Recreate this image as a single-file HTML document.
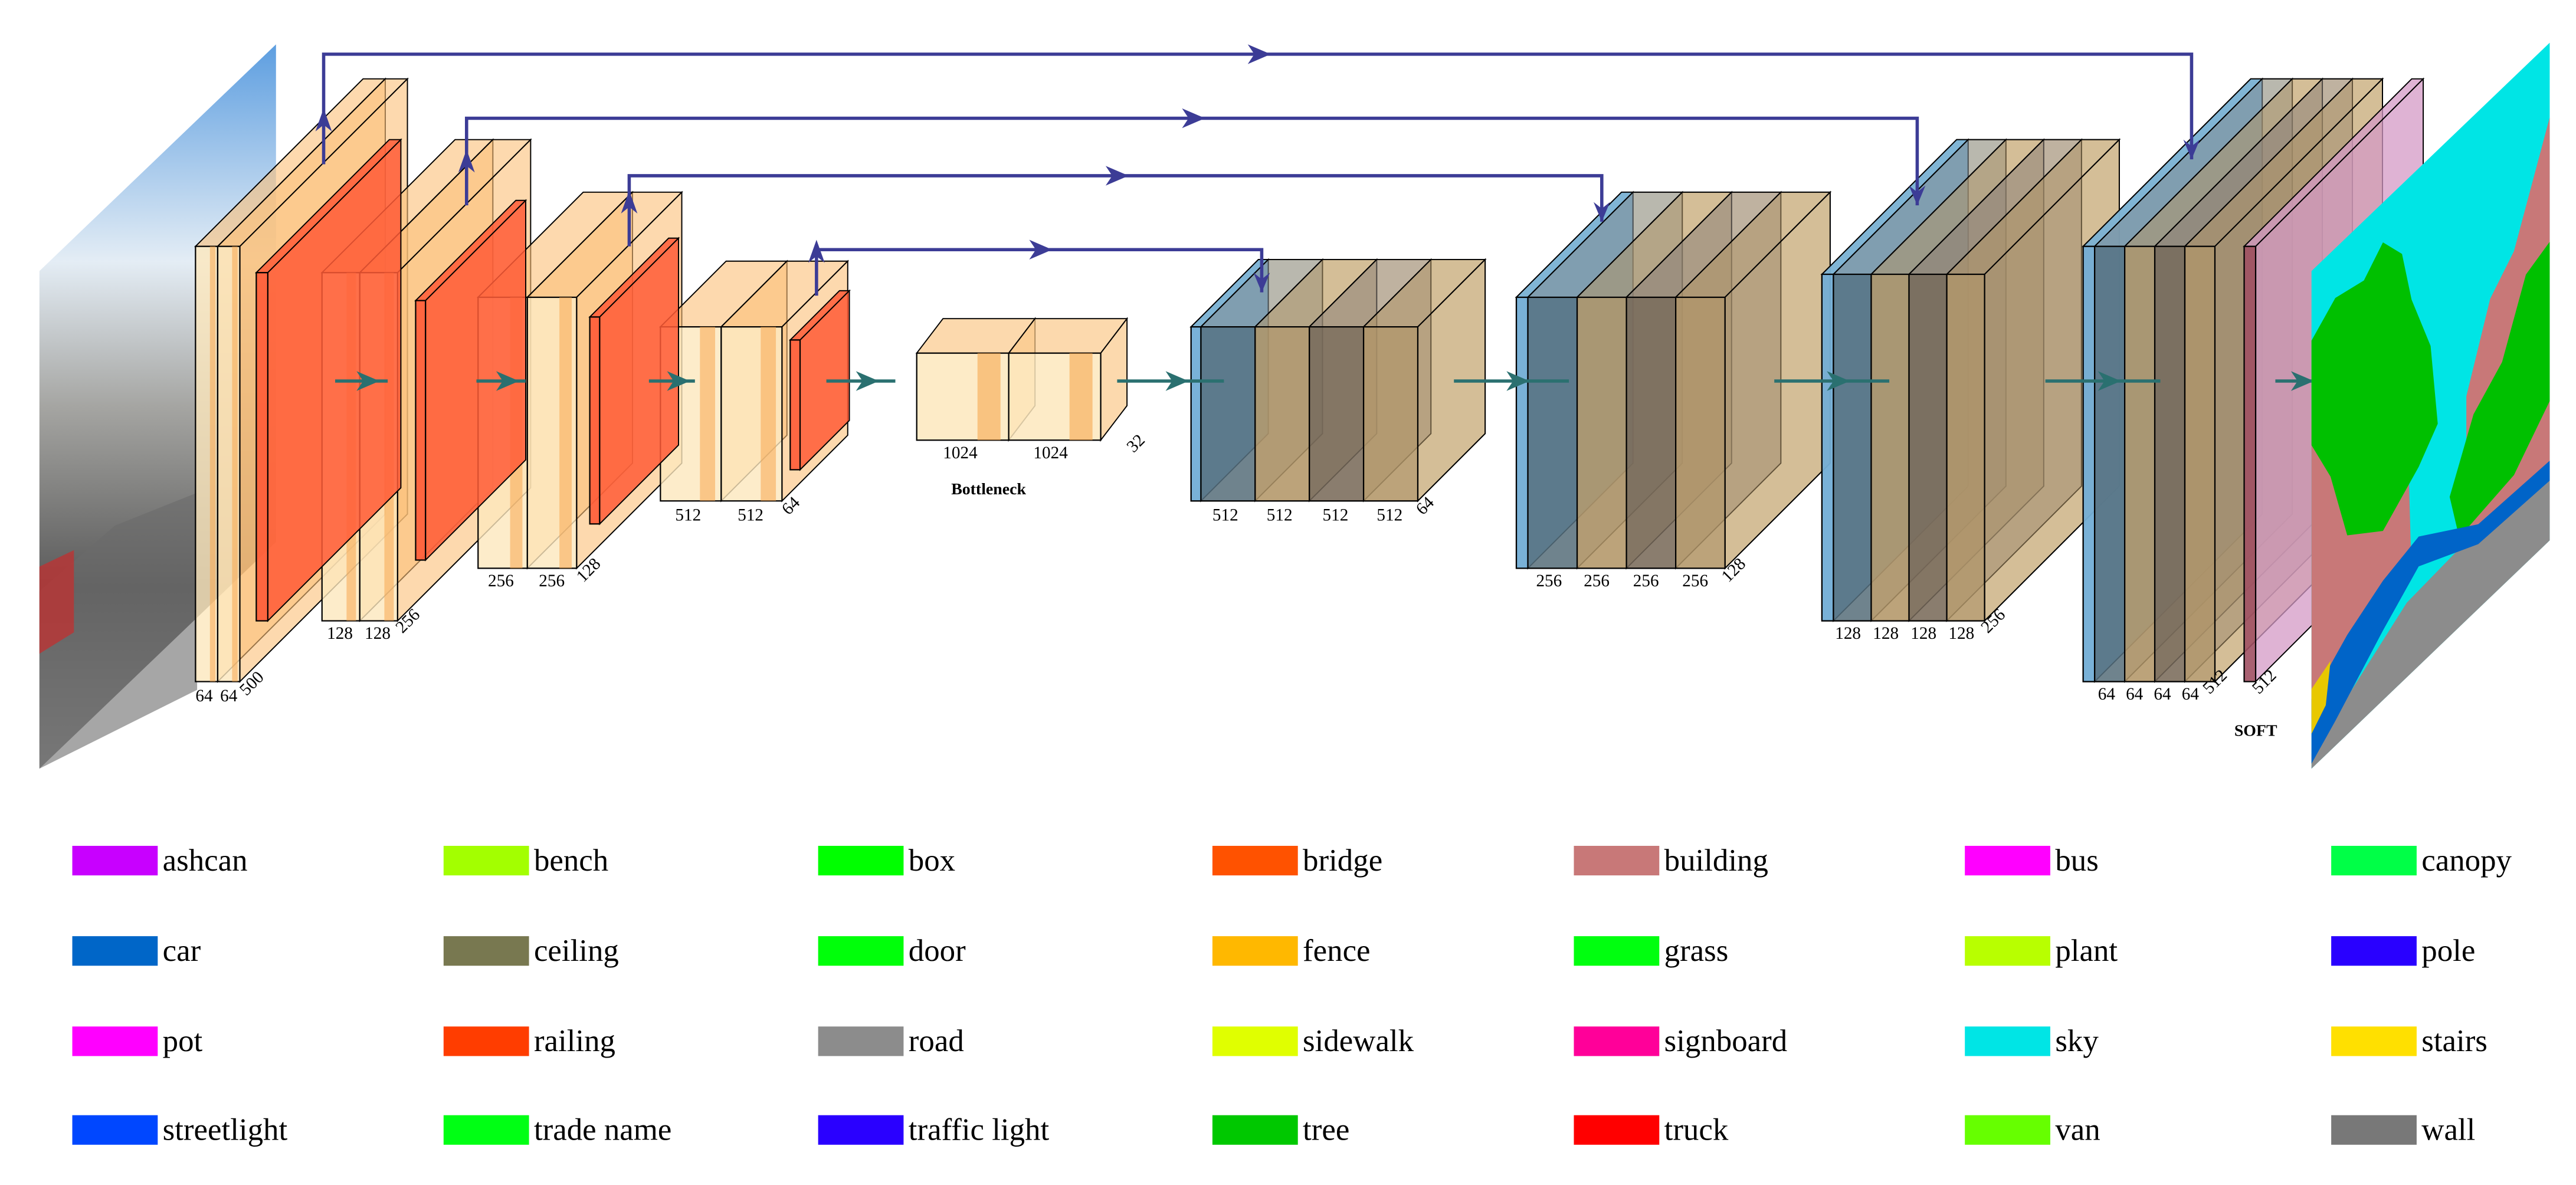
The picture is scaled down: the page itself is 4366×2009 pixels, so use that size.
<!DOCTYPE html>
<html><head><meta charset="utf-8"><style>
html,body{margin:0;padding:0;background:#fff}
svg{display:block}
svg text{font-family:"Liberation Serif","DejaVu Serif",serif}
</style></head><body>
<svg id="s" width="4366" height="2009" viewBox="0 0 1568 721.5" xmlns="http://www.w3.org/2000/svg">
<defs>
<linearGradient id="sky" x1="0" y1="0" x2="0" y2="1">
<stop offset="0" stop-color="#5d9ee0"/><stop offset="0.3" stop-color="#e4edf5"/><stop offset="0.5" stop-color="#a5a5a2"/><stop offset="0.75" stop-color="#5a5a5a"/><stop offset="1" stop-color="#8a8a8a"/>
</linearGradient>
</defs>
<g id="img">
<polygon points="24,165 168,27 168,330 24,468" fill="url(#sky)"/>
<polygon points="24,360 70,320 120,300 120,420 24,468" fill="#6b6b6b" opacity="0.6"/>
<polygon points="24,345 45,335 45,385 24,398" fill="#b33" opacity="0.8"/>
</g>
<g id="diag"></g>
<g id="out" transform="matrix(145,-139,0,303,1407,165)">
<polygon points="0,0 1,0 1,1 0,1" fill="#00e5e5"/>
<polygon points="0,0.3 0.2,0.3 0.4,0.45 0.42,0.8 0.2,0.85 0,0.9" fill="#c87878"/>
<polygon points="0,0.14 0.1,0.1 0.22,0.12 0.3,0.08 0.38,0.14 0.42,0.25 0.5,0.38 0.53,0.55 0.45,0.6 0.3,0.66 0.15,0.6 0.08,0.45 0,0.35" fill="#00c000"/>
<polygon points="0.65,0.55 0.75,0.4 0.85,0.35 1,0.15 1,0.95 0.65,0.9" fill="#c87878"/>
<polygon points="0.58,0.72 0.68,0.6 0.8,0.55 0.9,0.42 1,0.4 1,0.72 0.85,0.8 0.62,0.82" fill="#00c000"/>
<polygon points="0.4,0.85 0.7,0.84 1,0.86 1,1 0,1 0,0.97" fill="#8c8c8c"/>
<polygon points="0,0.86 0.15,0.8 0.3,0.76 0.45,0.74 0.7,0.83 1,0.84 1,0.88 0.7,0.87 0.45,0.8 0.3,0.86 0.1,0.95 0,0.99" fill="#0064c8"/>
<polygon points="0,0.84 0.08,0.82 0.06,0.9 0,0.93" fill="#e8c800"/>
</g>
<g id="legend"></g>
</svg>
<script>
const NS="http://www.w3.org/2000/svg";
const diag=document.getElementById('diag');
function el(tag,attrs,parent){const e=document.createElementNS(NS,tag);for(const k in attrs)e.setAttribute(k,attrs[k]);(parent||diag).appendChild(e);return e;}
function box(x,y,w,h,dx,dy,front,side,fop,sop,name){
  const g=el('g',{});
  
  
  el('polygon',{points:`${x},${y} ${x+dx},${y-dy} ${x+w+dx},${y-dy} ${x+w},${y}`,fill:side,'fill-opacity':sop,stroke:'#000','stroke-width':0.7},g);
  el('polygon',{points:`${x+w},${y} ${x+w+dx},${y-dy} ${x+w+dx},${y+h-dy} ${x+w},${y+h}`,fill:side,'fill-opacity':sop,stroke:'#000','stroke-width':0.7},g);
  el('rect',{x:x,y:y,width:w,height:h,fill:front,'fill-opacity':fop,stroke:'#000','stroke-width':0.8},g);
  return g;
}
const convStages=[[119,150,13.5,265,102],[196,166,23,212,81],[291,181,30,165,64],[402,199,37,106,40]];
const poolSlabs=[[156,166,7,212,81],[253,183,6,158,61],[359,193,6,126,48],[481,207,6,79,30]];
convStages.forEach((s,i)=>{for(let k=0;k<2;k++){const x=s[0]+k*s[2];
 box(x,s[1],s[2],s[3],s[4],s[4],'#fde7bd','#fbbf78',0.8,0.6,'encoder-conv-'+i+'-'+k);
 el('rect',{x:x+s[2]*0.65,y:s[1],width:s[2]*0.25,height:s[3],fill:'#f7a850',opacity:0.55});}});
poolSlabs.forEach((s,i)=>box(s[0],s[1],s[2],s[3],s[4],s[4],'#ff5a36','#ff5a36',0.9,0.85,'pool-'+i));
[[558,215],[614,215]].forEach((s,i)=>{box(s[0],s[1],56,53,16,21,'#fde7bd','#fbc98a',0.85,0.7,'bottleneck-'+i);
 el('rect',{x:s[0]+37,y:s[1],width:14,height:53,fill:'#f7a850',opacity:0.6});});
const decoders=[[725,199,106,41,6,33],[923,181,165,64,7,30],[1109,167,211,82,7,23],[1268,150,265,102,7,18.3]];
const slabFronts=['#56707f','#b09568','#75685a','#b09568'];
const slabSides=['#7f8a92','#b09568','#8a8078','#b09568'];
decoders.forEach((d,j)=>{const tw=d[4]+4*d[5];
 box(d[0],d[1],tw,d[2],d[3],d[3],'#fde9c0','#fde9c0',0.6,0.75,'decoder-outer-'+j);
 box(d[0],d[1],d[4],d[2],d[3],d[3],'#6aaad6','#6aaad6',0.9,0.85,'decoder-blue-'+j);
 for(let i=0;i<4;i++){box(d[0]+d[4]+i*d[5],d[1],d[5],d[2],d[3],d[3],slabFronts[i],slabSides[i],0.85,0.55,'decoder-'+j+'-'+i);}});
box(1366,150,7,265,102,102,'#a05063','#d49ac6',0.9,0.75,'softmax-layer');
const skips=[[197,100,33,1334,97],[284,125,72,1167,125],[383,150,107,975,135],[497,180,152,768,178]];
skips.forEach((s,i)=>{const p=el('polyline',{points:`${s[0]},${s[1]} ${s[0]},${s[2]} ${s[3]},${s[2]} ${s[3]},${s[4]}`,fill:'none',stroke:'#3c3c96','stroke-width':2});

const m=(s[0]+s[3])/2;el('polygon',{points:`${m-6},${s[2]-6} ${m+8},${s[2]} ${m-6},${s[2]+6} ${m-2},${s[2]}`,fill:'#3c3c96'});
el('polygon',{points:`${s[0]-5},${s[1]-20} ${s[0]},${s[1]-34} ${s[0]+5},${s[1]-20} ${s[0]},${s[1]-24}`,fill:'#3c3c96'});
el('polygon',{points:`${s[3]-5},${s[4]-12} ${s[3]},${s[4]} ${s[3]+5},${s[4]-12} ${s[3]},${s[4]-8}`,fill:'#3c3c96'});});
const flows=[[204,236],[290,320],[395,423],[503,545],[680,745],[885,955],[1080,1150],[1245,1315],[1385,1410]];
flows.forEach((f,i)=>{const l=el('line',{x1:f[0],y1:232,x2:f[1],y2:232,stroke:'#2a7070','stroke-width':2});

const m=(f[0]+f[1])/2+5;el('polygon',{points:`${m-8},${226} ${m+6},232 ${m-8},238 ${m-4},232`,fill:'#2a7070'});});
const labels=[["64",119,427],["64",134,427],["500",150,424,-45],["128",199,389],["128",222,389],["256",245,386,-45],["256",297,357],["256",328,357],["128",355,355,-45],["512",411,317],["512",449,317],["64",480,314,-45],["1024",574,279],["1024",629,279],["32",690,276,-45],
["512",738,317],["512",771,317],["512",805,317],["512",838,317],["64",866,314,-45],["256",935,357],["256",964,357],["256",994,357],["256",1024,357],["128",1052,355,-45],
["128",1117,389],["128",1140,389],["128",1163,389],["128",1186,389],["256",1210,386,-45],["64",1277,426],["64",1294,426],["64",1311,426],["64",1328,426],["512",1345,423,-45],["512",1375,423,-45]];
labels.forEach(l=>{const t=el('text',{x:l[1],y:l[2],'font-size':10.5,transform:l[3]?`rotate(${l[3]} ${l[1]} ${l[2]})`:''});t.textContent=l[0];
});
let t=el('text',{x:579,y:301,'font-size':10,'font-weight':'bold'});t.textContent='Bottleneck';
t=el('text',{x:1360,y:448,'font-size':10,'font-weight':'bold'});t.textContent='SOFT';
const classNames=["ashcan","bench","box","bridge","building","bus","canopy","car","ceiling","door","fence","grass","plant","pole","pot","railing","road","sidewalk","signboard","sky","stairs","streetlight","trade name","traffic light","tree","truck","van","wall"];
const classColors=["#c800ff","#a3ff00","#00ff00","#ff5200","#c87878","#ff00ff","#00ff47","#0066c8","#787850","#00ff0a","#ffb800","#00ff0f","#b8ff00","#2900ff","#ff00ff","#ff3d00","#8c8c8c","#e0ff00","#ff0099","#00e5e5","#ffe000","#0047ff","#00ff14","#2a00ff","#00c800","#ff0000","#66ff00","#787878"];
const colX=[44,270,498,738,958,1196,1419],rowY=[524,579,634,688];
const lg=document.getElementById('legend');
classNames.forEach((n,i)=>{const x=colX[i%7],y=rowY[Math.floor(i/7)];
const g=el('g',{},lg);
el('rect',{x:x,y:y-9,width:52,height:18,fill:classColors[i]},g);
const tt=el('text',{x:x+55,y:y+6,'font-size':19},g);tt.textContent=n;});
</script>
</body></html>
